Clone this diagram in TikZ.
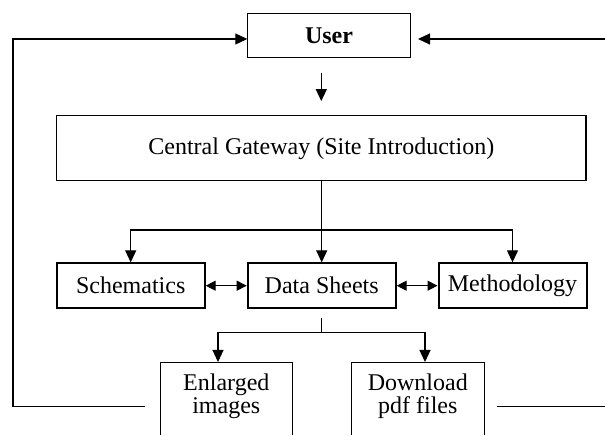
\documentclass[tikz,border=0pt]{standalone}
\usepackage{fontspec}
\setmainfont{Liberation Serif}
\usetikzlibrary{arrows.meta}

\begin{document}
\begin{tikzpicture}[
    x=1pt, y=-1pt,
    font=\fontsize{24}{23}\selectfont,
    box/.style={rectangle, draw, line width=1.1pt, inner sep=0pt, align=center},
    navbox/.style={box, line width=2pt, minimum width=148pt, minimum height=44.7pt},
    leafbox/.style={box, minimum width=132.5pt, minimum height=110pt, anchor=north},
    conn/.style={line width=1.1pt},
    arrow/.style={conn, -{Triangle[length=12pt, width=11pt]}},
    biarrow/.style={conn, {Triangle[length=10pt, width=10pt]}-{Triangle[length=10pt, width=10pt]}}
]
\useasboundingbox (0,0) rectangle (605,435);
\clip (0,0) rectangle (605,435);

% User and gateway
\node[box, minimum width=162.3pt, minimum height=44pt] (user) at (329,35.3) {\textbf{User}};
\node[box, minimum width=529.3pt, minimum height=65.3pt] (gw) at (321.3,148.3) {Central Gateway (Site Introduction)};

\draw[arrow, shorten <=14.7pt, shorten >=14pt] (gw.north |- user.south) -- (gw.north);

% Main sections
\node[navbox] (schem) at (130.7,285.7) {Schematics};
\node[navbox] (data) at (321.7,285.7) {Data Sheets};
\node[navbox] (meth) at (512.5,285.7) {Methodology};

\coordinate (split) at (321.7,230);
\draw[arrow] (gw.south -| data.north) -- (data.north);
\draw[arrow] (split) -| (schem.north);
\draw[arrow] (split) -| (meth.north);

\draw[biarrow] (schem.east) -- (data.west);
\draw[biarrow] (data.east) -- (meth.west);

% Downloads and images
\node[leafbox] (enl) at (226.3,362) {};
\node[leafbox] (dl) at (417.8,362) {};
\node[inner sep=0pt, align=center, anchor=north] (enltext) at ([yshift=-12pt]enl.north) {Enlarged\\images};
\node[inner sep=0pt, align=center, anchor=north] (dltext) at ([yshift=-12pt]dl.north) {Download\\pdf files};

\coordinate (split2) at (321.7,332.5);
\coordinate (enlin) at (218,362);
\coordinate (dlin) at (425,362);
\draw[conn, shorten <=9pt] (data.south) -- (split2);
\draw[arrow] (split2) -| (enlin);
\draw[arrow] (split2) -| (dlin);

% Return paths to the user
\coordinate (backl) at (145,406.5);
\coordinate (backr) at (496.7,406.5);
\coordinate (railr) at (606,0);
\coordinate (raill) at (13,0);
\draw[arrow] (backl) -| (raill |- 0,39) -- (user.west |- 0,39);
\draw[arrow, shorten >=7.3pt] (backr) -| (railr |- 0,39) -- (user.east |- 0,39);

\end{tikzpicture}
\end{document}
